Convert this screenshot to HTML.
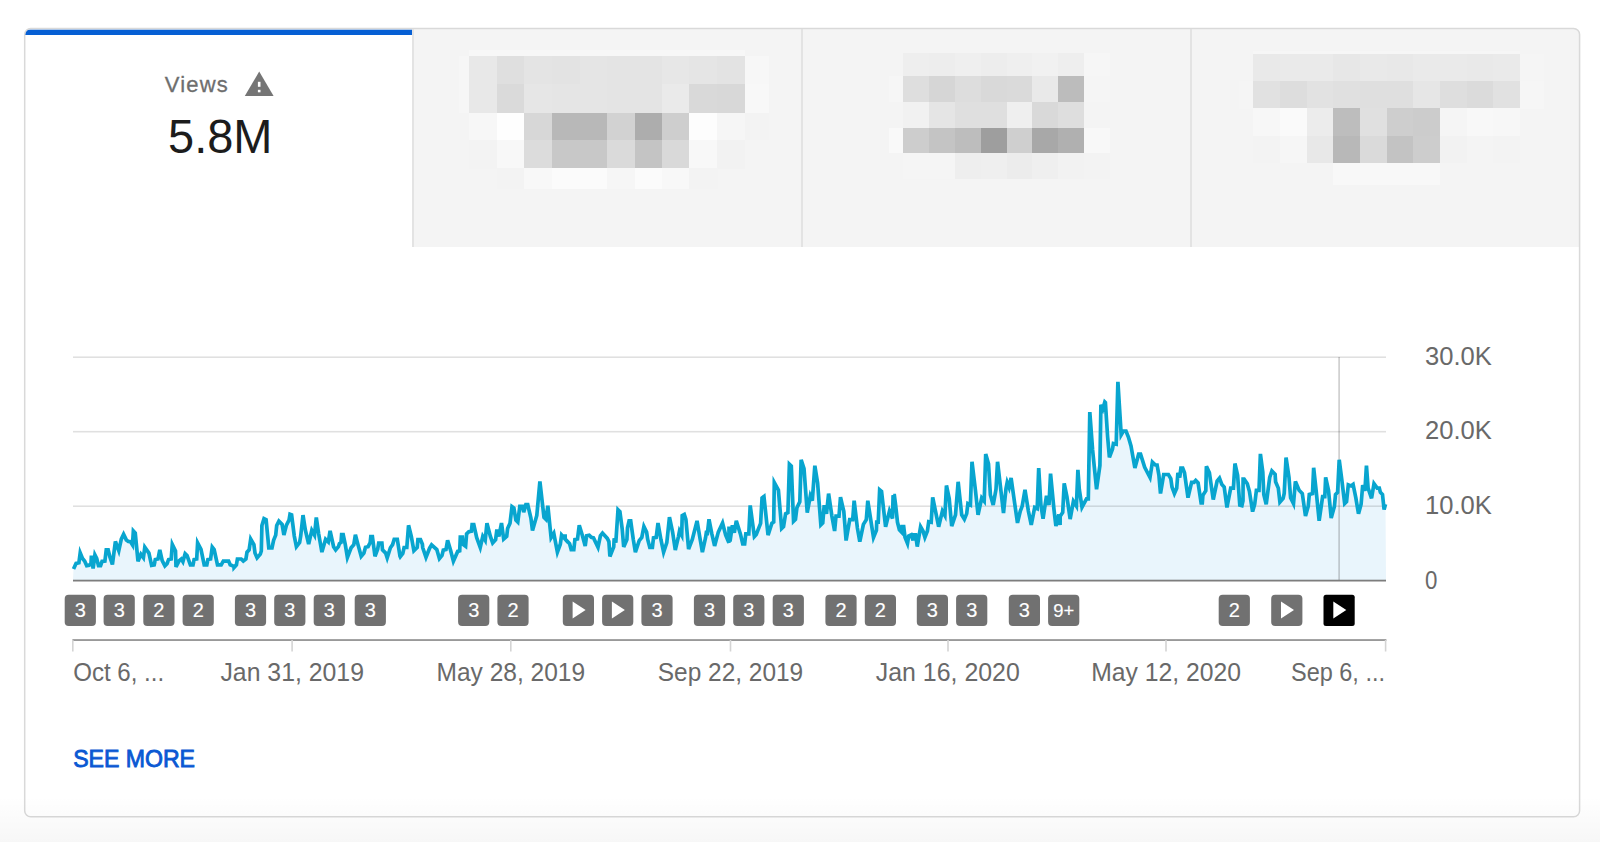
<!DOCTYPE html>
<html><head><meta charset="utf-8"><title>Views</title>
<style>
html,body{margin:0;padding:0;}
body{width:1600px;height:842px;overflow:hidden;background:#fff;font-family:"Liberation Sans",Arial,sans-serif;position:relative;}
.card{position:absolute;left:25px;top:29px;width:1555px;height:788px;border-radius:5px;background:#fff;overflow:hidden;}
.tabs{position:absolute;left:388px;top:0;width:1167px;height:218px;background:#f4f4f4;}
.div{position:absolute;top:0;width:2px;height:218px;background:#e3e3e3;}
.bar{position:absolute;left:0;top:0;width:387px;height:6px;background:#065fd4;}
svg{position:absolute;left:0;top:0;}
.shade{position:absolute;left:0;top:796px;width:1600px;height:46px;background:linear-gradient(rgba(0,0,0,0),rgba(0,0,0,0.032));}
svg text{font-family:"Liberation Sans",Arial,sans-serif;}
</style></head><body>
<div class="card">
 <div class="tabs"></div>
 <div class="div" style="left:387px"></div>
 <div class="div" style="left:776px"></div>
 <div class="div" style="left:1165px"></div>
</div>
<svg width="1600" height="842" viewBox="0 0 1600 842">
<clipPath id="cc"><rect x="25" y="29" width="1555" height="788" rx="5"/></clipPath>
<rect x="25" y="29.6" width="387" height="5.4" fill="#065fd4" clip-path="url(#cc)"/>
<rect x="24.7" y="28.5" width="1554.9" height="788.3" rx="6" fill="none" stroke="#d9d9d9" stroke-width="1.5"/>
<g shape-rendering="crispEdges">
<rect x="468.8" y="50.0" width="28.2" height="6.0" fill="#f7f7f7"/>
<rect x="496.7" y="50.0" width="27.8" height="6.0" fill="#f7f7f7"/>
<rect x="524.2" y="50.0" width="27.9" height="6.0" fill="#f7f7f7"/>
<rect x="551.8" y="50.0" width="28.0" height="6.0" fill="#f7f7f7"/>
<rect x="579.5" y="50.0" width="28.0" height="6.0" fill="#f7f7f7"/>
<rect x="607.2" y="50.0" width="27.7" height="6.0" fill="#f7f7f7"/>
<rect x="634.6" y="50.0" width="28.0" height="6.0" fill="#f7f7f7"/>
<rect x="662.3" y="50.0" width="27.3" height="6.0" fill="#f7f7f7"/>
<rect x="689.3" y="50.0" width="28.2" height="6.0" fill="#f7f7f7"/>
<rect x="717.2" y="50.0" width="28.0" height="6.0" fill="#f7f7f7"/>
<rect x="459.0" y="55.8" width="10.1" height="28.6" fill="#f6f6f6"/>
<rect x="468.8" y="55.8" width="28.2" height="28.6" fill="#e8e8e8"/>
<rect x="496.7" y="55.8" width="27.8" height="28.6" fill="#dfdfdf"/>
<rect x="524.2" y="55.8" width="27.9" height="28.6" fill="#e4e4e4"/>
<rect x="551.8" y="55.8" width="28.0" height="28.6" fill="#e3e3e3"/>
<rect x="579.5" y="55.8" width="28.0" height="28.6" fill="#e5e5e5"/>
<rect x="607.2" y="55.8" width="27.7" height="28.6" fill="#e4e4e4"/>
<rect x="634.6" y="55.8" width="28.0" height="28.6" fill="#e4e4e4"/>
<rect x="662.3" y="55.8" width="27.3" height="28.6" fill="#e7e7e7"/>
<rect x="689.3" y="55.8" width="28.2" height="28.6" fill="#e5e5e5"/>
<rect x="717.2" y="55.8" width="28.0" height="28.6" fill="#e3e3e3"/>
<rect x="744.9" y="55.8" width="23.9" height="28.6" fill="#f7f7f7"/>
<rect x="459.0" y="84.1" width="10.1" height="28.7" fill="#f6f6f6"/>
<rect x="468.8" y="84.1" width="28.2" height="28.7" fill="#e8e8e8"/>
<rect x="496.7" y="84.1" width="27.8" height="28.7" fill="#dadada"/>
<rect x="524.2" y="84.1" width="27.9" height="28.7" fill="#e6e6e6"/>
<rect x="551.8" y="84.1" width="28.0" height="28.7" fill="#e5e5e5"/>
<rect x="579.5" y="84.1" width="28.0" height="28.7" fill="#e5e5e5"/>
<rect x="607.2" y="84.1" width="27.7" height="28.7" fill="#e4e4e4"/>
<rect x="634.6" y="84.1" width="28.0" height="28.7" fill="#e4e4e4"/>
<rect x="662.3" y="84.1" width="27.3" height="28.7" fill="#eaeaea"/>
<rect x="689.3" y="84.1" width="28.2" height="28.7" fill="#d9d9d9"/>
<rect x="717.2" y="84.1" width="28.0" height="28.7" fill="#d8d8d8"/>
<rect x="744.9" y="84.1" width="23.9" height="28.7" fill="#f8f8f8"/>
<rect x="468.8" y="112.5" width="28.2" height="27.9" fill="#f7f7f7"/>
<rect x="496.7" y="112.5" width="27.8" height="27.9" fill="#fefefe"/>
<rect x="524.2" y="112.5" width="27.9" height="27.9" fill="#d7d7d7"/>
<rect x="551.8" y="112.5" width="28.0" height="27.9" fill="#b8b8b8"/>
<rect x="579.5" y="112.5" width="28.0" height="27.9" fill="#b8b8b8"/>
<rect x="607.2" y="112.5" width="27.7" height="27.9" fill="#d2d2d2"/>
<rect x="634.6" y="112.5" width="28.0" height="27.9" fill="#adadad"/>
<rect x="662.3" y="112.5" width="27.3" height="27.9" fill="#cecece"/>
<rect x="689.3" y="112.5" width="28.2" height="27.9" fill="#fdfdfd"/>
<rect x="717.2" y="112.5" width="28.0" height="27.9" fill="#f6f6f6"/>
<rect x="744.9" y="112.5" width="23.9" height="27.9" fill="#f3f3f3"/>
<rect x="468.8" y="140.1" width="28.2" height="28.5" fill="#f3f3f3"/>
<rect x="496.7" y="140.1" width="27.8" height="28.5" fill="#f8f8f8"/>
<rect x="524.2" y="140.1" width="27.9" height="28.5" fill="#dcdcdc"/>
<rect x="551.8" y="140.1" width="28.0" height="28.5" fill="#c8c8c8"/>
<rect x="579.5" y="140.1" width="28.0" height="28.5" fill="#c8c8c8"/>
<rect x="607.2" y="140.1" width="27.7" height="28.5" fill="#dadada"/>
<rect x="634.6" y="140.1" width="28.0" height="28.5" fill="#c4c4c4"/>
<rect x="662.3" y="140.1" width="27.3" height="28.5" fill="#d9d9d9"/>
<rect x="689.3" y="140.1" width="28.2" height="28.5" fill="#f8f8f8"/>
<rect x="717.2" y="140.1" width="28.0" height="28.5" fill="#f2f2f2"/>
<rect x="496.7" y="168.3" width="27.8" height="20.5" fill="#f3f3f3"/>
<rect x="524.2" y="168.3" width="27.9" height="20.5" fill="#f8f8f8"/>
<rect x="551.8" y="168.3" width="28.0" height="20.5" fill="#fbfbfb"/>
<rect x="579.5" y="168.3" width="28.0" height="20.5" fill="#fbfbfb"/>
<rect x="607.2" y="168.3" width="27.7" height="20.5" fill="#f6f6f6"/>
<rect x="634.6" y="168.3" width="28.0" height="20.5" fill="#fbfbfb"/>
<rect x="662.3" y="168.3" width="27.3" height="20.5" fill="#f8f8f8"/>
<rect x="689.3" y="168.3" width="28.2" height="20.5" fill="#f3f3f3"/>
<rect x="903.1" y="53.0" width="26.2" height="23.7" fill="#eeeeee"/>
<rect x="929.0" y="53.0" width="25.9" height="23.7" fill="#ededed"/>
<rect x="954.6" y="53.0" width="26.4" height="23.7" fill="#efefef"/>
<rect x="980.7" y="53.0" width="26.1" height="23.7" fill="#ededed"/>
<rect x="1006.5" y="53.0" width="25.9" height="23.7" fill="#efefef"/>
<rect x="1032.1" y="53.0" width="26.2" height="23.7" fill="#f1f1f1"/>
<rect x="1058.0" y="53.0" width="26.1" height="23.7" fill="#eeeeee"/>
<rect x="1083.8" y="53.0" width="26.0" height="23.7" fill="#f6f6f6"/>
<rect x="888.5" y="76.4" width="14.9" height="25.8" fill="#f6f6f6"/>
<rect x="903.1" y="76.4" width="26.2" height="25.8" fill="#dedede"/>
<rect x="929.0" y="76.4" width="25.9" height="25.8" fill="#d6d6d6"/>
<rect x="954.6" y="76.4" width="26.4" height="25.8" fill="#dddddd"/>
<rect x="980.7" y="76.4" width="26.1" height="25.8" fill="#d9d9d9"/>
<rect x="1006.5" y="76.4" width="25.9" height="25.8" fill="#dadada"/>
<rect x="1032.1" y="76.4" width="26.2" height="25.8" fill="#e9e9e9"/>
<rect x="1058.0" y="76.4" width="26.1" height="25.8" fill="#bcbcbc"/>
<rect x="1083.8" y="76.4" width="26.0" height="25.8" fill="#f5f5f5"/>
<rect x="903.1" y="101.9" width="26.2" height="25.9" fill="#f1f1f1"/>
<rect x="929.0" y="101.9" width="25.9" height="25.9" fill="#e5e5e5"/>
<rect x="954.6" y="101.9" width="26.4" height="25.9" fill="#dfdfdf"/>
<rect x="980.7" y="101.9" width="26.1" height="25.9" fill="#dfdfdf"/>
<rect x="1006.5" y="101.9" width="25.9" height="25.9" fill="#efefef"/>
<rect x="1032.1" y="101.9" width="26.2" height="25.9" fill="#d9d9d9"/>
<rect x="1058.0" y="101.9" width="26.1" height="25.9" fill="#dedede"/>
<rect x="888.5" y="127.5" width="14.9" height="25.6" fill="#f9f9f9"/>
<rect x="903.1" y="127.5" width="26.2" height="25.6" fill="#cdcdcd"/>
<rect x="929.0" y="127.5" width="25.9" height="25.6" fill="#c4c4c4"/>
<rect x="954.6" y="127.5" width="26.4" height="25.6" fill="#bdbdbd"/>
<rect x="980.7" y="127.5" width="26.1" height="25.6" fill="#9e9e9e"/>
<rect x="1006.5" y="127.5" width="25.9" height="25.6" fill="#cfcfcf"/>
<rect x="1032.1" y="127.5" width="26.2" height="25.6" fill="#a8a8a8"/>
<rect x="1058.0" y="127.5" width="26.1" height="25.6" fill="#b0b0b0"/>
<rect x="1083.8" y="127.5" width="26.0" height="25.6" fill="#f8f8f8"/>
<rect x="903.1" y="152.8" width="26.2" height="26.3" fill="#f5f5f5"/>
<rect x="929.0" y="152.8" width="25.9" height="26.3" fill="#f5f5f5"/>
<rect x="954.6" y="152.8" width="26.4" height="26.3" fill="#eeeeee"/>
<rect x="980.7" y="152.8" width="26.1" height="26.3" fill="#efefef"/>
<rect x="1006.5" y="152.8" width="25.9" height="26.3" fill="#ececec"/>
<rect x="1032.1" y="152.8" width="26.2" height="26.3" fill="#efefef"/>
<rect x="1058.0" y="152.8" width="26.1" height="26.3" fill="#f2f2f2"/>
<rect x="1083.8" y="152.8" width="26.0" height="26.3" fill="#f3f3f3"/>
<rect x="1253.4" y="51.0" width="26.9" height="3.7" fill="#f6f6f6"/>
<rect x="1280.0" y="51.0" width="26.9" height="3.7" fill="#f6f6f6"/>
<rect x="1306.6" y="51.0" width="27.1" height="3.7" fill="#f6f6f6"/>
<rect x="1333.4" y="51.0" width="26.9" height="3.7" fill="#f6f6f6"/>
<rect x="1360.0" y="51.0" width="26.9" height="3.7" fill="#f6f6f6"/>
<rect x="1386.6" y="51.0" width="27.1" height="3.7" fill="#f6f6f6"/>
<rect x="1413.4" y="51.0" width="26.9" height="3.7" fill="#f6f6f6"/>
<rect x="1440.0" y="51.0" width="26.9" height="3.7" fill="#f6f6f6"/>
<rect x="1466.6" y="51.0" width="27.1" height="3.7" fill="#f6f6f6"/>
<rect x="1493.4" y="51.0" width="26.9" height="3.7" fill="#f6f6f6"/>
<rect x="1253.4" y="54.4" width="26.9" height="27.3" fill="#e9e9e9"/>
<rect x="1280.0" y="54.4" width="26.9" height="27.3" fill="#eaeaea"/>
<rect x="1306.6" y="54.4" width="27.1" height="27.3" fill="#eaeaea"/>
<rect x="1333.4" y="54.4" width="26.9" height="27.3" fill="#e7e7e7"/>
<rect x="1360.0" y="54.4" width="26.9" height="27.3" fill="#e9e9e9"/>
<rect x="1386.6" y="54.4" width="27.1" height="27.3" fill="#e8e8e8"/>
<rect x="1413.4" y="54.4" width="26.9" height="27.3" fill="#eaeaea"/>
<rect x="1440.0" y="54.4" width="26.9" height="27.3" fill="#eaeaea"/>
<rect x="1466.6" y="54.4" width="27.1" height="27.3" fill="#e9e9e9"/>
<rect x="1493.4" y="54.4" width="26.9" height="27.3" fill="#eaeaea"/>
<rect x="1520.0" y="54.4" width="23.9" height="27.3" fill="#f5f5f5"/>
<rect x="1239.0" y="81.4" width="14.7" height="27.3" fill="#f5f5f5"/>
<rect x="1253.4" y="81.4" width="26.9" height="27.3" fill="#e1e1e1"/>
<rect x="1280.0" y="81.4" width="26.9" height="27.3" fill="#dddddd"/>
<rect x="1306.6" y="81.4" width="27.1" height="27.3" fill="#e2e2e2"/>
<rect x="1333.4" y="81.4" width="26.9" height="27.3" fill="#e0e0e0"/>
<rect x="1360.0" y="81.4" width="26.9" height="27.3" fill="#dfdfdf"/>
<rect x="1386.6" y="81.4" width="27.1" height="27.3" fill="#dfdfdf"/>
<rect x="1413.4" y="81.4" width="26.9" height="27.3" fill="#e6e6e6"/>
<rect x="1440.0" y="81.4" width="26.9" height="27.3" fill="#dedede"/>
<rect x="1466.6" y="81.4" width="27.1" height="27.3" fill="#dbdbdb"/>
<rect x="1493.4" y="81.4" width="26.9" height="27.3" fill="#e1e1e1"/>
<rect x="1520.0" y="81.4" width="23.9" height="27.3" fill="#f6f6f6"/>
<rect x="1253.4" y="108.4" width="26.9" height="27.5" fill="#f7f7f7"/>
<rect x="1280.0" y="108.4" width="26.9" height="27.5" fill="#fafafa"/>
<rect x="1306.6" y="108.4" width="27.1" height="27.5" fill="#ececec"/>
<rect x="1333.4" y="108.4" width="26.9" height="27.5" fill="#bdbdbd"/>
<rect x="1360.0" y="108.4" width="26.9" height="27.5" fill="#e0e0e0"/>
<rect x="1386.6" y="108.4" width="27.1" height="27.5" fill="#cecece"/>
<rect x="1413.4" y="108.4" width="26.9" height="27.5" fill="#cccccc"/>
<rect x="1440.0" y="108.4" width="26.9" height="27.5" fill="#f5f5f5"/>
<rect x="1466.6" y="108.4" width="27.1" height="27.5" fill="#f8f8f8"/>
<rect x="1493.4" y="108.4" width="26.9" height="27.5" fill="#f7f7f7"/>
<rect x="1253.4" y="135.6" width="26.9" height="27.3" fill="#f3f3f3"/>
<rect x="1280.0" y="135.6" width="26.9" height="27.3" fill="#f6f6f6"/>
<rect x="1306.6" y="135.6" width="27.1" height="27.3" fill="#e8e8e8"/>
<rect x="1333.4" y="135.6" width="26.9" height="27.3" fill="#b8b8b8"/>
<rect x="1360.0" y="135.6" width="26.9" height="27.3" fill="#dadada"/>
<rect x="1386.6" y="135.6" width="27.1" height="27.3" fill="#c3c3c3"/>
<rect x="1413.4" y="135.6" width="26.9" height="27.3" fill="#cdcdcd"/>
<rect x="1440.0" y="135.6" width="26.9" height="27.3" fill="#f2f2f2"/>
<rect x="1466.6" y="135.6" width="27.1" height="27.3" fill="#f4f4f4"/>
<rect x="1493.4" y="135.6" width="26.9" height="27.3" fill="#f3f3f3"/>
<rect x="1333.4" y="162.6" width="26.9" height="22.3" fill="#f8f8f8"/>
<rect x="1360.0" y="162.6" width="26.9" height="22.3" fill="#f8f8f8"/>
<rect x="1386.6" y="162.6" width="27.1" height="22.3" fill="#f8f8f8"/>
<rect x="1413.4" y="162.6" width="26.9" height="22.3" fill="#f8f8f8"/>
</g>
<!-- header -->
<text x="164.8" y="91.7" font-size="22" fill="#6e6e6e" stroke="#6e6e6e" stroke-width="0.3" textLength="63" lengthAdjust="spacing">Views</text>
<path d="M259.2,71.6 L273.6,96 L244.8,96 Z" fill="#757575"/>
<rect x="257.9" y="81.8" width="2.6" height="5.0" fill="#fff"/>
<rect x="257.9" y="89.8" width="2.6" height="2.5" fill="#fff"/>
<text x="168" y="153.4" font-size="48.5" fill="#1c1c1c" textLength="104.5" lengthAdjust="spacingAndGlyphs">5.8M</text>
<!-- grid -->
<path d="M73,580 L73.5,569.1 L76.1,563.4 L78.9,562.7 L80.2,552.9 L82.5,558.5 L84.6,561.0 L86.7,565.6 L89.2,565.2 L91.0,563.4 L91.4,555.7 L93.1,568.4 L94.9,554.9 L96.7,558.5 L98.5,565.6 L100.6,565.6 L102.1,561.3 L104.9,561.0 L106.25,549.8 L108.15,549.8 L109.9,557.0 L112.4,564.5 L115.4,541.5 L118.8,550.7 L121.3,539.2 L123.6,534.3 L126.3,539.9 L128.4,541.4 L130.5,541.7 L132.5,544.9 L133.35,531.0 L135.25,533.1 L138.0,561.3 L140.9,554.2 L143.4,557.7 L144.8,547.2 L148.9,553.1 L151.6,565.3 L154.2,564.8 L155.3,559.5 L158.0,559.0 L159.8,549.9 L162.2,560.6 L164.9,565.9 L167.0,563.7 L168.6,559.5 L171.2,559.0 L172.3,544.4 L175.5,551.0 L176.0,566.9 L179.2,560.6 L181.3,559.0 L182.9,561.6 L185.15,553.7 L187.05,555.6 L190.4,564.8 L193.0,564.8 L194.1,559.5 L196.7,559.0 L197.6,542.8 L201.0,549.4 L204.2,564.8 L206.8,564.8 L207.9,559.5 L210.6,559.0 L212.25,547.1 L214.15,549.5 L217.5,564.8 L221.2,564.8 L223.3,561.1 L228.6,561.1 L230.2,564.8 L233.9,566.4 L234.0,567.5 L236.4,564.8 L237.4,559.0 L241.2,559.0 L243.3,561.1 L245.9,559.0 L247.0,552.1 L249.1,549.9 L250.7,539.0 L253.9,544.6 L255.0,553.1 L257.1,557.9 L260.3,554.2 L261.3,551.0 L261.9,525.5 L264.0,518.6 L266.1,519.7 L268.8,547.8 L272.0,547.8 L273.6,540.4 L275.7,535.1 L276.7,525.5 L278.9,521.2 L282.1,524.4 L283.9,535.0 L286.3,525.5 L289.0,520.2 L290.0,514.3 L291.6,514.9 L294.3,536.1 L296.4,546.7 L299.6,542.5 L300.7,536.1 L303.0,515.1 L305.4,530.3 L308.65,544.0 L311.8,530.3 L314.5,535.1 L316.3,517.5 L318.7,534.0 L321.9,552.1 L325.6,539.3 L328.3,542.0 L330.1,530.8 L333.6,546.7 L335.7,549.9 L338.4,546.7 L339.4,543.6 L341.0,542.5 L341.6,534.5 L343.2,534.5 L345.3,544.6 L347.4,557.4 L351.1,547.8 L353.8,544.6 L355.4,534.8 L358.0,544.6 L361.2,556.3 L363.9,553.1 L365.5,547.3 L368.1,546.7 L370.2,542.5 L370.8,536.7 L372.4,536.7 L375.0,556.3 L377.7,548.9 L378.7,543.0 L381.9,543.0 L382.5,549.9 L385.7,553.1 L387.2,557.9 L390.4,547.8 L392.6,544.6 L394.2,539.3 L397.3,539.3 L400.0,556.3 L400.2,556.7 L402.8,553.4 L404.1,547.5 L406.8,547.5 L408.55,525.3 L411.3,536.4 L413.9,550.8 L417.2,547.5 L417.9,539.7 L420.5,539.7 L422.4,544.2 L422.7,547.5 L426.0,557.3 L429.6,548.2 L431.6,544.9 L436.8,549.5 L439.4,558.6 L442.0,555.4 L443.3,550.1 L446.0,549.5 L447.6,540.3 L450.5,550.1 L453.4,561.2 L457.7,551.4 L459.7,550.8 L460.3,537.1 L462.3,537.1 L462.9,544.2 L465.6,546.2 L466.6,533.8 L468.8,531.8 L471.4,531.2 L472.1,524.7 L473.8,524.7 L476.7,537.7 L480.25,547.5 L482.8,536.4 L485.2,540.3 L486.95,523.3 L490.4,536.4 L492.7,542.9 L495.6,539.7 L496.9,529.4 L498.9,536.4 L501.5,523.0 L503.7,539.0 L506.7,536.4 L507.6,528.6 L510.0,523.3 L512.0,506.7 L513.9,508.1 L515.9,520.1 L517.8,522.0 L519.8,506.4 L522.4,506.4 L523.7,512.2 L525.85,504.7 L527.75,504.7 L530.9,518.1 L532.5,530.5 L536.8,515.5 L539.9,481.5 L544.0,517.5 L545.9,519.4 L547.85,505.7 L551.1,537.7 L553.8,533.3 L557.4,552.1 L560.3,544.2 L561.6,535.1 L565.0,539.0 L565.1,534.2 L565.2,539.0 L569.6,543.7 L571.2,549.6 L573.8,549.6 L574.9,539.5 L577.5,539.0 L579.25,525.2 L582.3,535.2 L585.2,546.1 L586.6,535.8 L589.2,535.2 L591.3,537.4 L593.5,537.9 L598.0,547.2 L600.4,535.8 L602.5,533.1 L607.3,538.4 L608.9,541.6 L609.9,556.5 L613.7,546.9 L614.2,538.4 L615.8,542.7 L618.0,509.8 L619.9,511.7 L622.2,528.9 L623.7,546.9 L626.9,539.5 L627.5,527.8 L629.1,520.9 L630.7,520.9 L633.3,539.5 L635.4,552.2 L639.2,540.6 L641.8,537.4 L643.9,526.5 L646.6,532.1 L647.7,539.5 L649.8,547.5 L652.4,547.5 L653.5,537.9 L656.2,537.4 L658.0,523.0 L660.9,539.5 L663.6,552.2 L666.8,542.7 L669.45,517.2 L672.6,532.1 L675.3,550.1 L678.5,536.3 L679.5,531.0 L681.7,535.2 L682.2,515.6 L684.3,514.5 L685.9,519.3 L688.6,549.1 L692.3,539.5 L697.05,520.9 L700.2,539.5 L702.4,552.2 L705.6,537.4 L706.6,530.7 L707.2,535.2 L709.0,519.3 L711.9,534.2 L714.6,545.9 L718.3,532.1 L722.55,523.0 L725.7,535.2 L728.9,542.7 L729.0,526.4 L730.0,541.4 L732.4,525.2 L734.3,532.8 L736.3,520.9 L740.4,533.9 L742.75,544.0 L744.65,544.0 L745.8,533.9 L748.8,533.9 L750.2,505.4 L754.35,536.5 L756.25,534.4 L760.6,523.3 L762.05,498.0 L763.95,496.5 L768.05,535.1 L771.9,523.3 L773.7,522.1 L774.3,482.5 L778.4,490.0 L781.65,528.4 L783.55,526.5 L785.6,513.8 L787.9,512.6 L789.4,464.3 L791.3,466.1 L793.55,521.2 L795.45,519.3 L796.9,507.8 L799.8,501.9 L801.15,459.7 L804.0,468.6 L807.25,512.6 L810.3,495.9 L812.3,500.7 L814.85,465.7 L817.6,482.9 L820.85,524.8 L822.75,522.9 L824.2,505.1 L826.5,513.8 L828.6,493.6 L831.9,516.1 L834.6,531.0 L836.0,516.1 L839.0,516.1 L840.5,497.1 L843.8,511.4 L846.1,540.5 L849.7,519.7 L852.7,519.7 L854.15,500.7 L857.4,528.0 L859.8,541.7 L863.4,524.4 L866.3,519.7 L867.8,500.7 L871.1,522.1 L873.5,537.5 L876.4,530.4 L876.7,522.1 L878.2,522.1 L879.65,489.9 L881.55,491.5 L885.6,526.8 L889.5,511.0 L892.5,518.5 L893.1,495.3 L893.2,495.5 L894.4,495.5 L895.6,504.9 L897.5,522.3 L899.4,529.8 L901.8,532.3 L902.1,526.7 L903.7,526.7 L905.0,537.3 L907.5,543.5 L908.7,536.0 L911.2,534.8 L913.1,540.4 L913.7,534.8 L915.6,534.8 L917.25,546.6 L920.6,526.7 L923.0,531.0 L924.9,537.3 L927.4,531.0 L928.7,521.7 L931.2,522.3 L932.7,497.4 L935.5,511.1 L938.65,526.7 L942.4,511.1 L944.9,515.5 L946.45,485.5 L949.2,498.6 L951.7,526.1 L955.5,514.8 L958.15,481.8 L961.7,514.8 L964.4,519.2 L966.7,513.6 L967.9,503.6 L970.4,504.9 L972.0,461.8 L975.4,489.9 L978.05,514.8 L981.7,498.0 L984.2,501.1 L985.7,454.0 L988.5,463.7 L990.4,494.9 L993.2,504.9 L996.0,489.3 L997.55,461.8 L1000.4,486.2 L1003.5,513.0 L1006.0,488.6 L1007.2,482.4 L1009.1,487.4 L1011.1,478.0 L1014.7,503.6 L1017.5,522.9 L1020.3,511.1 L1022.2,506.1 L1025.0,489.9 L1028.4,511.1 L1031.25,524.8 L1034.7,507.4 L1037.2,508.6 L1038.7,468.1 L1040.9,504.9 L1043.05,518.6 L1046.5,495.7 L1049.0,504.9 L1050.55,473.7 L1054.0,509.8 L1055.9,526.1 L1058.85,514.5 L1060.1,525.0 L1060.1999999999998,516.1 L1062.7,512.5 L1064.2,483.4 L1066.9,496.5 L1070.15,519.1 L1073.4,501.3 L1076.4,506.0 L1077.9,469.8 L1079.3,489.4 L1082.0,507.2 L1086.5,498.9 L1088.3,498.9 L1089.8,412.1 L1092.6,450.0 L1096.55,489.2 L1099.9,465.6 L1100.9,404.8 L1102.8,409.0 L1104.8,402.0 L1105.4,402.6 L1107.6,436.5 L1109.4,457.4 L1112.5,449.0 L1113.4,443.5 L1116.2,444.2 L1117.9,381.9 L1121.2,434.8 L1123.4,431.0 L1126.0,431.0 L1128.4,437.0 L1131.0,446.0 L1134.9,468.0 L1138.65,454.2 L1140.55,454.2 L1144.7,467.4 L1150.0,477.5 L1152.4,462.1 L1155.4,465.0 L1157.1,465.0 L1158.9,475.1 L1160.5,493.5 L1163.7,474.5 L1168.4,474.5 L1170.8,478.7 L1172.0,487.0 L1174.4,493.5 L1176.7,488.2 L1177.9,472.8 L1179.7,477.5 L1180.9,468.0 L1182.7,468.0 L1184.5,472.8 L1188.0,497.7 L1191.6,482.3 L1194.0,482.3 L1195.7,480.5 L1198.1,482.9 L1201.1,503.0 L1202.3,503.0 L1202.9,495.3 L1205.8,490.6 L1206.4,466.4 L1209.4,472.8 L1213.25,499.5 L1217.1,481.1 L1219.5,478.1 L1221.9,484.6 L1224.2,487.0 L1226.95,507.4 L1230.7,488.1 L1233.4,488.1 L1234.95,463.5 L1237.6,475.3 L1239.8,505.2 L1241.9,505.8 L1243.0,500.9 L1243.1,479.0 L1244.1,479.0 L1247.3,483.8 L1249.4,491.3 L1252.6,511.6 L1254.7,504.2 L1256.4,490.3 L1259.0,490.3 L1260.4,453.9 L1262.8,472.1 L1263.8,494.5 L1266.2,504.2 L1269.7,477.4 L1271.9,471.0 L1275.1,474.2 L1275.6,481.7 L1278.3,488.1 L1279.9,502.0 L1283.1,498.3 L1284.2,493.5 L1286.05,457.6 L1289.0,477.4 L1290.6,497.7 L1293.5,503.6 L1295.4,481.4 L1299.1,490.3 L1302.3,493.5 L1305.5,515.9 L1308.2,506.3 L1309.3,494.5 L1312.5,493.5 L1313.65,467.8 L1316.2,491.3 L1319.15,520.7 L1322.6,496.7 L1324.8,496.7 L1325.65,477.4 L1328.5,490.3 L1331.2,518.0 L1334.4,506.3 L1335.5,494.5 L1337.6,492.4 L1339.2,459.8 L1341.9,480.6 L1344.65,503.5 L1346.55,501.6 L1348.3,484.9 L1351.0,486.0 L1353.1,484.4 L1355.8,497.7 L1358.5,513.8 L1361.1,504.2 L1362.7,485.2 L1364.9,490.8 L1366.45,465.7 L1368.1,488.1 L1371.55,498.3 L1374.0,483.6 L1377.2,488.1 L1379.3,488.1 L1380.4,492.4 L1382.5,494.5 L1384.1,509.5 L1385.5,504.2 L1386,580 Z" fill="#e9f5fc"/>
<rect x="73" y="356.4" width="1313" height="1.6" fill="#000" fill-opacity="0.12"/>
<rect x="73" y="430.9" width="1313" height="1.6" fill="#000" fill-opacity="0.12"/>
<rect x="73" y="505.4" width="1313" height="1.6" fill="#000" fill-opacity="0.12"/>
<rect x="1338.3" y="357" width="1.6" height="223" fill="#000" fill-opacity="0.2"/>
<polyline points="73.5,569.1 76.1,563.4 78.9,562.7 80.2,552.9 82.5,558.5 84.6,561.0 86.7,565.6 89.2,565.2 91.0,563.4 91.4,555.7 93.1,568.4 94.9,554.9 96.7,558.5 98.5,565.6 100.6,565.6 102.1,561.3 104.9,561.0 106.25,549.8 108.15,549.8 109.9,557.0 112.4,564.5 115.4,541.5 118.8,550.7 121.3,539.2 123.6,534.3 126.3,539.9 128.4,541.4 130.5,541.7 132.5,544.9 133.35,531.0 135.25,533.1 138.0,561.3 140.9,554.2 143.4,557.7 144.8,547.2 148.9,553.1 151.6,565.3 154.2,564.8 155.3,559.5 158.0,559.0 159.8,549.9 162.2,560.6 164.9,565.9 167.0,563.7 168.6,559.5 171.2,559.0 172.3,544.4 175.5,551.0 176.0,566.9 179.2,560.6 181.3,559.0 182.9,561.6 185.15,553.7 187.05,555.6 190.4,564.8 193.0,564.8 194.1,559.5 196.7,559.0 197.6,542.8 201.0,549.4 204.2,564.8 206.8,564.8 207.9,559.5 210.6,559.0 212.25,547.1 214.15,549.5 217.5,564.8 221.2,564.8 223.3,561.1 228.6,561.1 230.2,564.8 233.9,566.4 234.0,567.5 236.4,564.8 237.4,559.0 241.2,559.0 243.3,561.1 245.9,559.0 247.0,552.1 249.1,549.9 250.7,539.0 253.9,544.6 255.0,553.1 257.1,557.9 260.3,554.2 261.3,551.0 261.9,525.5 264.0,518.6 266.1,519.7 268.8,547.8 272.0,547.8 273.6,540.4 275.7,535.1 276.7,525.5 278.9,521.2 282.1,524.4 283.9,535.0 286.3,525.5 289.0,520.2 290.0,514.3 291.6,514.9 294.3,536.1 296.4,546.7 299.6,542.5 300.7,536.1 303.0,515.1 305.4,530.3 308.65,544.0 311.8,530.3 314.5,535.1 316.3,517.5 318.7,534.0 321.9,552.1 325.6,539.3 328.3,542.0 330.1,530.8 333.6,546.7 335.7,549.9 338.4,546.7 339.4,543.6 341.0,542.5 341.6,534.5 343.2,534.5 345.3,544.6 347.4,557.4 351.1,547.8 353.8,544.6 355.4,534.8 358.0,544.6 361.2,556.3 363.9,553.1 365.5,547.3 368.1,546.7 370.2,542.5 370.8,536.7 372.4,536.7 375.0,556.3 377.7,548.9 378.7,543.0 381.9,543.0 382.5,549.9 385.7,553.1 387.2,557.9 390.4,547.8 392.6,544.6 394.2,539.3 397.3,539.3 400.0,556.3 400.2,556.7 402.8,553.4 404.1,547.5 406.8,547.5 408.55,525.3 411.3,536.4 413.9,550.8 417.2,547.5 417.9,539.7 420.5,539.7 422.4,544.2 422.7,547.5 426.0,557.3 429.6,548.2 431.6,544.9 436.8,549.5 439.4,558.6 442.0,555.4 443.3,550.1 446.0,549.5 447.6,540.3 450.5,550.1 453.4,561.2 457.7,551.4 459.7,550.8 460.3,537.1 462.3,537.1 462.9,544.2 465.6,546.2 466.6,533.8 468.8,531.8 471.4,531.2 472.1,524.7 473.8,524.7 476.7,537.7 480.25,547.5 482.8,536.4 485.2,540.3 486.95,523.3 490.4,536.4 492.7,542.9 495.6,539.7 496.9,529.4 498.9,536.4 501.5,523.0 503.7,539.0 506.7,536.4 507.6,528.6 510.0,523.3 512.0,506.7 513.9,508.1 515.9,520.1 517.8,522.0 519.8,506.4 522.4,506.4 523.7,512.2 525.85,504.7 527.75,504.7 530.9,518.1 532.5,530.5 536.8,515.5 539.9,481.5 544.0,517.5 545.9,519.4 547.85,505.7 551.1,537.7 553.8,533.3 557.4,552.1 560.3,544.2 561.6,535.1 565.0,539.0 565.1,534.2 565.2,539.0 569.6,543.7 571.2,549.6 573.8,549.6 574.9,539.5 577.5,539.0 579.25,525.2 582.3,535.2 585.2,546.1 586.6,535.8 589.2,535.2 591.3,537.4 593.5,537.9 598.0,547.2 600.4,535.8 602.5,533.1 607.3,538.4 608.9,541.6 609.9,556.5 613.7,546.9 614.2,538.4 615.8,542.7 618.0,509.8 619.9,511.7 622.2,528.9 623.7,546.9 626.9,539.5 627.5,527.8 629.1,520.9 630.7,520.9 633.3,539.5 635.4,552.2 639.2,540.6 641.8,537.4 643.9,526.5 646.6,532.1 647.7,539.5 649.8,547.5 652.4,547.5 653.5,537.9 656.2,537.4 658.0,523.0 660.9,539.5 663.6,552.2 666.8,542.7 669.45,517.2 672.6,532.1 675.3,550.1 678.5,536.3 679.5,531.0 681.7,535.2 682.2,515.6 684.3,514.5 685.9,519.3 688.6,549.1 692.3,539.5 697.05,520.9 700.2,539.5 702.4,552.2 705.6,537.4 706.6,530.7 707.2,535.2 709.0,519.3 711.9,534.2 714.6,545.9 718.3,532.1 722.55,523.0 725.7,535.2 728.9,542.7 729.0,526.4 730.0,541.4 732.4,525.2 734.3,532.8 736.3,520.9 740.4,533.9 742.75,544.0 744.65,544.0 745.8,533.9 748.8,533.9 750.2,505.4 754.35,536.5 756.25,534.4 760.6,523.3 762.05,498.0 763.95,496.5 768.05,535.1 771.9,523.3 773.7,522.1 774.3,482.5 778.4,490.0 781.65,528.4 783.55,526.5 785.6,513.8 787.9,512.6 789.4,464.3 791.3,466.1 793.55,521.2 795.45,519.3 796.9,507.8 799.8,501.9 801.15,459.7 804.0,468.6 807.25,512.6 810.3,495.9 812.3,500.7 814.85,465.7 817.6,482.9 820.85,524.8 822.75,522.9 824.2,505.1 826.5,513.8 828.6,493.6 831.9,516.1 834.6,531.0 836.0,516.1 839.0,516.1 840.5,497.1 843.8,511.4 846.1,540.5 849.7,519.7 852.7,519.7 854.15,500.7 857.4,528.0 859.8,541.7 863.4,524.4 866.3,519.7 867.8,500.7 871.1,522.1 873.5,537.5 876.4,530.4 876.7,522.1 878.2,522.1 879.65,489.9 881.55,491.5 885.6,526.8 889.5,511.0 892.5,518.5 893.1,495.3 893.2,495.5 894.4,495.5 895.6,504.9 897.5,522.3 899.4,529.8 901.8,532.3 902.1,526.7 903.7,526.7 905.0,537.3 907.5,543.5 908.7,536.0 911.2,534.8 913.1,540.4 913.7,534.8 915.6,534.8 917.25,546.6 920.6,526.7 923.0,531.0 924.9,537.3 927.4,531.0 928.7,521.7 931.2,522.3 932.7,497.4 935.5,511.1 938.65,526.7 942.4,511.1 944.9,515.5 946.45,485.5 949.2,498.6 951.7,526.1 955.5,514.8 958.15,481.8 961.7,514.8 964.4,519.2 966.7,513.6 967.9,503.6 970.4,504.9 972.0,461.8 975.4,489.9 978.05,514.8 981.7,498.0 984.2,501.1 985.7,454.0 988.5,463.7 990.4,494.9 993.2,504.9 996.0,489.3 997.55,461.8 1000.4,486.2 1003.5,513.0 1006.0,488.6 1007.2,482.4 1009.1,487.4 1011.1,478.0 1014.7,503.6 1017.5,522.9 1020.3,511.1 1022.2,506.1 1025.0,489.9 1028.4,511.1 1031.25,524.8 1034.7,507.4 1037.2,508.6 1038.7,468.1 1040.9,504.9 1043.05,518.6 1046.5,495.7 1049.0,504.9 1050.55,473.7 1054.0,509.8 1055.9,526.1 1058.85,514.5 1060.1,525.0 1060.1999999999998,516.1 1062.7,512.5 1064.2,483.4 1066.9,496.5 1070.15,519.1 1073.4,501.3 1076.4,506.0 1077.9,469.8 1079.3,489.4 1082.0,507.2 1086.5,498.9 1088.3,498.9 1089.8,412.1 1092.6,450.0 1096.55,489.2 1099.9,465.6 1100.9,404.8 1102.8,409.0 1104.8,402.0 1105.4,402.6 1107.6,436.5 1109.4,457.4 1112.5,449.0 1113.4,443.5 1116.2,444.2 1117.9,381.9 1121.2,434.8 1123.4,431.0 1126.0,431.0 1128.4,437.0 1131.0,446.0 1134.9,468.0 1138.65,454.2 1140.55,454.2 1144.7,467.4 1150.0,477.5 1152.4,462.1 1155.4,465.0 1157.1,465.0 1158.9,475.1 1160.5,493.5 1163.7,474.5 1168.4,474.5 1170.8,478.7 1172.0,487.0 1174.4,493.5 1176.7,488.2 1177.9,472.8 1179.7,477.5 1180.9,468.0 1182.7,468.0 1184.5,472.8 1188.0,497.7 1191.6,482.3 1194.0,482.3 1195.7,480.5 1198.1,482.9 1201.1,503.0 1202.3,503.0 1202.9,495.3 1205.8,490.6 1206.4,466.4 1209.4,472.8 1213.25,499.5 1217.1,481.1 1219.5,478.1 1221.9,484.6 1224.2,487.0 1226.95,507.4 1230.7,488.1 1233.4,488.1 1234.95,463.5 1237.6,475.3 1239.8,505.2 1241.9,505.8 1243.0,500.9 1243.1,479.0 1244.1,479.0 1247.3,483.8 1249.4,491.3 1252.6,511.6 1254.7,504.2 1256.4,490.3 1259.0,490.3 1260.4,453.9 1262.8,472.1 1263.8,494.5 1266.2,504.2 1269.7,477.4 1271.9,471.0 1275.1,474.2 1275.6,481.7 1278.3,488.1 1279.9,502.0 1283.1,498.3 1284.2,493.5 1286.05,457.6 1289.0,477.4 1290.6,497.7 1293.5,503.6 1295.4,481.4 1299.1,490.3 1302.3,493.5 1305.5,515.9 1308.2,506.3 1309.3,494.5 1312.5,493.5 1313.65,467.8 1316.2,491.3 1319.15,520.7 1322.6,496.7 1324.8,496.7 1325.65,477.4 1328.5,490.3 1331.2,518.0 1334.4,506.3 1335.5,494.5 1337.6,492.4 1339.2,459.8 1341.9,480.6 1344.65,503.5 1346.55,501.6 1348.3,484.9 1351.0,486.0 1353.1,484.4 1355.8,497.7 1358.5,513.8 1361.1,504.2 1362.7,485.2 1364.9,490.8 1366.45,465.7 1368.1,488.1 1371.55,498.3 1374.0,483.6 1377.2,488.1 1379.3,488.1 1380.4,492.4 1382.5,494.5 1384.1,509.5 1385.5,504.2" fill="none" stroke="#08a5cf" stroke-width="3.7" stroke-linejoin="miter" stroke-miterlimit="4"/>
<rect x="73" y="579.7" width="1313" height="1.8" fill="#7d7d7d"/>
<text x="1425" y="364.9" font-size="25.8" fill="#696969" textLength="66.8" lengthAdjust="spacingAndGlyphs">30.0K</text>
<text x="1425" y="439.4" font-size="25.8" fill="#696969" textLength="66.8" lengthAdjust="spacingAndGlyphs">20.0K</text>
<text x="1425" y="513.9" font-size="25.8" fill="#696969" textLength="66.8" lengthAdjust="spacingAndGlyphs">10.0K</text>
<text x="1425" y="588.5" font-size="25.8" fill="#696969" textLength="12.4" lengthAdjust="spacingAndGlyphs">0</text>
<!-- badges -->
<rect x="64.7" y="594.7" width="31.2" height="31.2" rx="4" fill="#717171"/>
<text x="80.3" y="617.4" font-size="20" fill="#fff" stroke="#fff" stroke-width="0.15" text-anchor="middle">3</text>
<rect x="103.6" y="594.7" width="31.2" height="31.2" rx="4" fill="#717171"/>
<text x="119.2" y="617.4" font-size="20" fill="#fff" stroke="#fff" stroke-width="0.15" text-anchor="middle">3</text>
<rect x="143.3" y="594.7" width="31.2" height="31.2" rx="4" fill="#717171"/>
<text x="158.9" y="617.4" font-size="20" fill="#fff" stroke="#fff" stroke-width="0.15" text-anchor="middle">2</text>
<rect x="182.6" y="594.7" width="31.2" height="31.2" rx="4" fill="#717171"/>
<text x="198.2" y="617.4" font-size="20" fill="#fff" stroke="#fff" stroke-width="0.15" text-anchor="middle">2</text>
<rect x="234.9" y="594.7" width="31.2" height="31.2" rx="4" fill="#717171"/>
<text x="250.5" y="617.4" font-size="20" fill="#fff" stroke="#fff" stroke-width="0.15" text-anchor="middle">3</text>
<rect x="274.2" y="594.7" width="31.2" height="31.2" rx="4" fill="#717171"/>
<text x="289.8" y="617.4" font-size="20" fill="#fff" stroke="#fff" stroke-width="0.15" text-anchor="middle">3</text>
<rect x="313.7" y="594.7" width="31.2" height="31.2" rx="4" fill="#717171"/>
<text x="329.3" y="617.4" font-size="20" fill="#fff" stroke="#fff" stroke-width="0.15" text-anchor="middle">3</text>
<rect x="354.7" y="594.7" width="31.2" height="31.2" rx="4" fill="#717171"/>
<text x="370.3" y="617.4" font-size="20" fill="#fff" stroke="#fff" stroke-width="0.15" text-anchor="middle">3</text>
<rect x="458.1" y="594.7" width="31.2" height="31.2" rx="4" fill="#717171"/>
<text x="473.7" y="617.4" font-size="20" fill="#fff" stroke="#fff" stroke-width="0.15" text-anchor="middle">3</text>
<rect x="497.4" y="594.7" width="31.2" height="31.2" rx="4" fill="#717171"/>
<text x="513.0" y="617.4" font-size="20" fill="#fff" stroke="#fff" stroke-width="0.15" text-anchor="middle">2</text>
<rect x="562.8" y="594.7" width="31.2" height="31.2" rx="4" fill="#717171"/>
<path d="M572.6,601.6 L585.6,610.1 L572.6,618.6 Z" fill="#fff"/>
<rect x="602.1" y="594.7" width="31.2" height="31.2" rx="4" fill="#717171"/>
<path d="M611.9,601.6 L624.9,610.1 L611.9,618.6 Z" fill="#fff"/>
<rect x="641.4" y="594.7" width="31.2" height="31.2" rx="4" fill="#717171"/>
<text x="657.0" y="617.4" font-size="20" fill="#fff" stroke="#fff" stroke-width="0.15" text-anchor="middle">3</text>
<rect x="693.9" y="594.7" width="31.2" height="31.2" rx="4" fill="#717171"/>
<text x="709.5" y="617.4" font-size="20" fill="#fff" stroke="#fff" stroke-width="0.15" text-anchor="middle">3</text>
<rect x="733.2" y="594.7" width="31.2" height="31.2" rx="4" fill="#717171"/>
<text x="748.8" y="617.4" font-size="20" fill="#fff" stroke="#fff" stroke-width="0.15" text-anchor="middle">3</text>
<rect x="772.7" y="594.7" width="31.2" height="31.2" rx="4" fill="#717171"/>
<text x="788.3" y="617.4" font-size="20" fill="#fff" stroke="#fff" stroke-width="0.15" text-anchor="middle">3</text>
<rect x="825.4" y="594.7" width="31.2" height="31.2" rx="4" fill="#717171"/>
<text x="841.0" y="617.4" font-size="20" fill="#fff" stroke="#fff" stroke-width="0.15" text-anchor="middle">2</text>
<rect x="864.8" y="594.7" width="31.2" height="31.2" rx="4" fill="#717171"/>
<text x="880.4" y="617.4" font-size="20" fill="#fff" stroke="#fff" stroke-width="0.15" text-anchor="middle">2</text>
<rect x="916.8" y="594.7" width="31.2" height="31.2" rx="4" fill="#717171"/>
<text x="932.4" y="617.4" font-size="20" fill="#fff" stroke="#fff" stroke-width="0.15" text-anchor="middle">3</text>
<rect x="956.1" y="594.7" width="31.2" height="31.2" rx="4" fill="#717171"/>
<text x="971.7" y="617.4" font-size="20" fill="#fff" stroke="#fff" stroke-width="0.15" text-anchor="middle">3</text>
<rect x="1008.8" y="594.7" width="31.2" height="31.2" rx="4" fill="#717171"/>
<text x="1024.4" y="617.4" font-size="20" fill="#fff" stroke="#fff" stroke-width="0.15" text-anchor="middle">3</text>
<rect x="1048.1" y="594.7" width="31.2" height="31.2" rx="4" fill="#717171"/>
<text x="1063.7" y="617.4" font-size="18.5" fill="#fff" stroke="#fff" stroke-width="0.15" text-anchor="middle" textLength="21" lengthAdjust="spacingAndGlyphs">9+</text>
<rect x="1218.7" y="594.7" width="31.2" height="31.2" rx="4" fill="#717171"/>
<text x="1234.3" y="617.4" font-size="20" fill="#fff" stroke="#fff" stroke-width="0.15" text-anchor="middle">2</text>
<rect x="1271.2" y="594.7" width="31.2" height="31.2" rx="4" fill="#717171"/>
<path d="M1281.0,601.6 L1294.0,610.1 L1281.0,618.6 Z" fill="#fff"/>
<rect x="1323.5" y="594.7" width="31.2" height="31.2" rx="2.5" fill="#000"/>
<path d="M1333.3,601.6 L1346.3,610.1 L1333.3,618.6 Z" fill="#fff"/>
<rect x="72.4" y="639.2" width="1314" height="1.7" fill="#8e8e8e"/>
<rect x="72.0" y="640" width="1.6" height="11.5" fill="#d4d4d4"/>
<rect x="291.3" y="640" width="1.6" height="11.5" fill="#d4d4d4"/>
<rect x="510.0" y="640" width="1.6" height="11.5" fill="#d4d4d4"/>
<rect x="729.7" y="640" width="1.6" height="11.5" fill="#d4d4d4"/>
<rect x="947.2" y="640" width="1.6" height="11.5" fill="#d4d4d4"/>
<rect x="1165.2" y="640" width="1.6" height="11.5" fill="#d4d4d4"/>
<rect x="1384.8" y="640" width="1.6" height="11.5" fill="#d4d4d4"/>
<text x="73.2" y="680.9" font-size="25.8" fill="#696969" text-anchor="start" textLength="91" lengthAdjust="spacingAndGlyphs">Oct 6, ...</text>
<text x="292.2" y="680.9" font-size="25.8" fill="#696969" text-anchor="middle" textLength="143.5" lengthAdjust="spacingAndGlyphs">Jan 31, 2019</text>
<text x="510.8" y="680.9" font-size="25.8" fill="#696969" text-anchor="middle" textLength="148.6" lengthAdjust="spacingAndGlyphs">May 28, 2019</text>
<text x="730.5" y="680.9" font-size="25.8" fill="#696969" text-anchor="middle" textLength="145.4" lengthAdjust="spacingAndGlyphs">Sep 22, 2019</text>
<text x="947.8" y="680.9" font-size="25.8" fill="#696969" text-anchor="middle" textLength="144" lengthAdjust="spacingAndGlyphs">Jan 16, 2020</text>
<text x="1166.1" y="680.9" font-size="25.8" fill="#696969" text-anchor="middle" textLength="149.8" lengthAdjust="spacingAndGlyphs">May 12, 2020</text>
<text x="1385" y="680.9" font-size="25.8" fill="#696969" text-anchor="end" textLength="94" lengthAdjust="spacingAndGlyphs">Sep 6, ...</text>
<text x="73.2" y="767" font-size="24.6" fill="#0a58d3" stroke="#0a58d3" stroke-width="0.9" textLength="121.8" lengthAdjust="spacingAndGlyphs">SEE MORE</text>
</svg>
<div class="shade"></div>
</body></html>
